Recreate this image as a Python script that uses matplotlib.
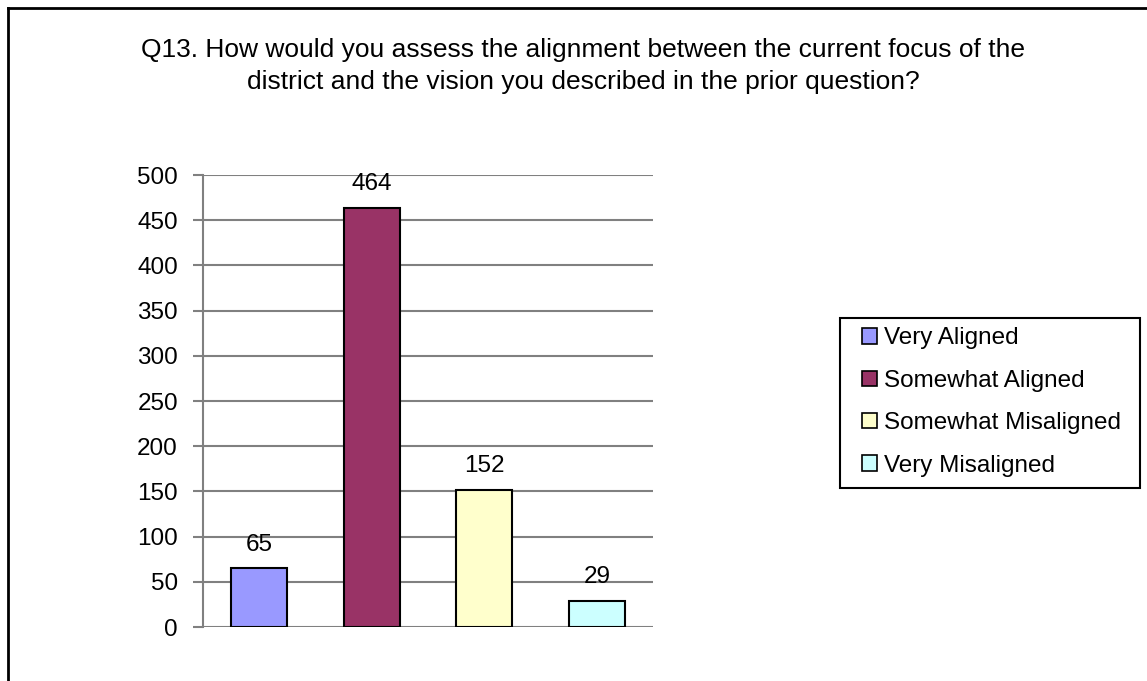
import matplotlib.pyplot as plt
from matplotlib.patches import Patch, Rectangle
from matplotlib.lines import Line2D

categories = ['Very Aligned', 'Somewhat Aligned', 'Somewhat Misaligned', 'Very Misaligned']
counts = [65, 464, 152, 29]
colors = ['#9999FF', '#993366', '#FFFFCC', '#CCFFFF']
yticks = [0, 50, 100, 150, 200, 250, 300, 350, 400, 450, 500]
title = ('Q13. How would you assess the alignment between the current focus of the\n'
         'district and the vision you described in the prior question?')

plt.rcParams['font.family'] = ['Liberation Sans', 'DejaVu Sans']

W, H = 1147, 681
fig = plt.figure(figsize=(W / 100, H / 100), dpi=100)
ax = fig.add_axes([203 / W, 1 - 627 / H, 450 / W, 452 / H])

x = range(len(categories))
bars = ax.bar(x, counts, width=0.5, color=colors, edgecolor='black', linewidth=1.5, zorder=3)

for b, v in zip(bars, counts):
    ax.text(b.get_x() + b.get_width() / 2, v + 26, str(v), ha='center', va='center',
            fontsize=17.5, zorder=4)

ax.set_xlim(-0.5, 3.5)
ax.set_ylim(0, 500)
ax.set_yticks(yticks)
ax.set_xticks([])
ax.yaxis.grid(True, color='#808080', linewidth=1.5, zorder=0)
ax.tick_params(axis='y', length=7, width=1.5, color='#808080', labelsize=17.5, pad=11)
for side in ['top', 'right', 'bottom']:
    ax.spines[side].set_visible(False)
ax.spines['left'].set_color('#808080')
ax.spines['left'].set_linewidth(1.5)

fig.text(583 / W, 1 - 66 / H, title, ha='center', va='center', fontsize=19,
         linespacing=1.42)

# legend box drawn separately so its padding matches the original
fig.add_artist(Rectangle((840 / W, 1 - 488 / H), 300 / W, 170 / H, transform=fig.transFigure,
                         facecolor='white', edgecolor='black', linewidth=1.5, zorder=5))
handles = [Patch(facecolor=c, edgecolor='black', linewidth=1.2) for c in colors]
leg = fig.legend(handles, categories, loc='center left', bbox_to_anchor=(862 / W, 1 - 402 / H),
                 fontsize=17.5, frameon=False,
                 handlelength=0.6, handleheight=0.6, handletextpad=0.3, labelspacing=0.84,
                 borderpad=0, borderaxespad=0)
leg.set_zorder(6)

# outer chart border (right and bottom edges are cropped off)
fig.add_artist(Line2D([8 / W, 8 / W], [0, 1 - 8 / H], transform=fig.transFigure,
                      color='black', linewidth=2))
fig.add_artist(Line2D([8 / W, 1], [1 - 8 / H, 1 - 8 / H], transform=fig.transFigure,
                      color='black', linewidth=2))

fig.savefig('out.png', dpi=100)
